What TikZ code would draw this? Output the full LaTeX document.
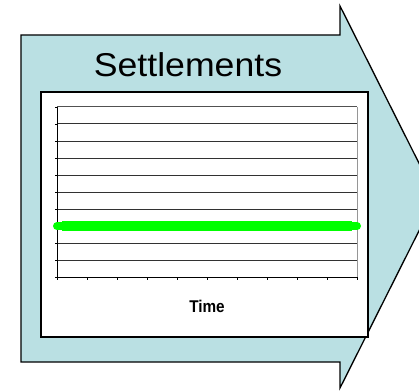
\documentclass[tikz,border=0pt]{standalone}
\usepackage{fontspec}
\setmainfont{Liberation Sans}
\definecolor{arrowfill}{RGB}{186,224,227}
\definecolor{gridc}{RGB}{50,50,50}
\definecolor{rightc}{RGB}{150,150,150}
\definecolor{greenc}{RGB}{0,255,0}
\begin{document}
\begin{tikzpicture}[x=1pt,y=-1pt,
  arrowshape/.style={fill=arrowfill,draw=black,line width=1.3pt,line join=miter},
  panel/.style={fill=white,draw=black,line width=1.2pt},
  gridline/.style={draw=gridc,line width=1pt},
  axisline/.style={draw=black,line width=1pt},
  tick/.style={draw=black,line width=0.8pt},
  series/.style={draw=greenc,line width=8pt,line cap=round},
  titletext/.style={font=\fontsize{33}{33}\selectfont,inner sep=0pt,anchor=base},
  axistext/.style={font=\bfseries\fontsize{17}{17}\selectfont,inner sep=0pt,anchor=base}]
\useasboundingbox (0,0) rectangle (419,390);
\begin{scope}
\clip (0,0) rectangle (419,390);
\draw[arrowshape] (21,35) -- (340,35) -- (340,6) -- (436,197) -- (340,388) -- (340,362) -- (21,362) -- cycle;
\end{scope}
\node[titletext,xscale=1.08] (title) at (188,76.5) {Settlements};
\draw[panel] (41,92) rectangle (368,337);
% grid
\foreach \y in {124,141,158,175,192,209,226,243,260}
  \draw[gridline] (57,\y) -- (357,\y);
\draw[draw=gridc!85,line width=1pt] (57,107) -- (357,107);
\draw[draw=rightc,line width=1pt] (357,107) -- (357,277);
% axes
\draw[axisline] (57,107) -- (57,277) -- (357,277);
\foreach \y in {107,124,141,158,175,192,209,226,243,260,277}
  \draw[tick] (55,\y) -- (57,\y);
\foreach \i in {0,...,10}
  \draw[tick] ({57+30*\i},277) -- ({57+30*\i},279.5);
% series
\draw[series] (57,226) -- (357,226);
\draw[greenc,line width=1.2pt] (62,221.5) -- (352,221.5);
\draw[greenc,line width=1.2pt] (62,230.5) -- (352,230.5);
\node[axistext,xscale=0.9] (xlabel) at (207,312.5) {Time};
\end{tikzpicture}
\end{document}
